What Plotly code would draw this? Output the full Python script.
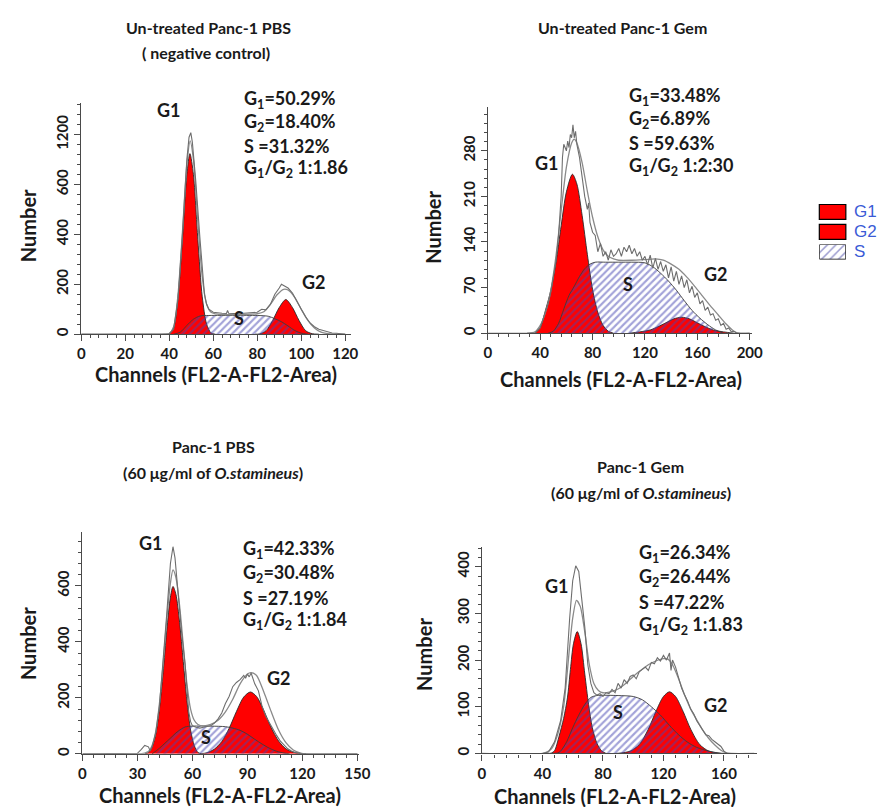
import plotly.graph_objects as go

W, H = 896, 807

# ---------------- Panel 1: Un-treated Panc-1 PBS ----------------
p1_raw_ch = [0, 38, 40, 42, 44, 46, 48, 49, 49.8, 50.5, 52, 54, 55, 56, 57, 58, 60, 62, 64, 66,
             66.5, 67, 68, 70, 72, 74, 76, 78, 80, 82, 84, 86, 88, 90, 91, 92, 94, 96, 98, 100,
             102, 104, 106, 108, 110, 112, 114, 116, 118, 120]
p1_raw = [0, 0, 2, 20, 140, 400, 700, 790, 808, 770, 620, 380, 250, 160, 120, 100, 88, 85, 84, 83,
          95, 84, 83, 84, 82, 84, 85, 86, 88, 100, 98, 120, 160, 185, 200, 195, 185, 165, 130, 100,
          70, 45, 30, 20, 15, 10, 5, 4, 2, 0]
p1_fit_ch = [0, 38, 40, 42, 44, 46, 48, 49.5, 51, 53, 55, 57, 59, 62, 66, 70, 75, 80, 83, 86,
             89, 92, 94, 97, 100, 103, 106, 109, 112, 115, 120]
p1_fit = [0, 0, 3, 30, 160, 410, 680, 775, 700, 450, 230, 120, 88, 80, 78, 78, 79, 82, 90, 120,
          158, 180, 177, 148, 100, 55, 25, 8, 2, 0, 0]
p1_g1_ch = [40, 42, 44, 46, 48, 49.4, 51, 53, 55, 57, 59, 61]
p1_g1 = [0, 25, 150, 380, 640, 724, 640, 380, 150, 40, 5, 0]
p1_s_ch = [42, 45, 48, 51, 54, 58, 70, 80, 85, 88, 91, 94, 97, 100, 103]
p1_s = [0, 8, 35, 60, 73, 75, 75, 75, 72, 62, 50, 33, 15, 4, 0]
p1_g2_ch = [79, 81, 84, 87, 90, 93, 96, 99, 102, 105, 108]
p1_g2 = [0, 1, 14, 55, 107, 139, 107, 55, 14, 2, 0]
p1_marks = [49, 92]
p1_yticks = [0, 200, 400, 600, 800]
p1_yticktext = ["0", "200", "400", "600", "1200"]
p1_stats = ["G<sub>1</sub>=50.29%", "G<sub>2</sub>=18.40%", "S =31.32%", "G<sub>1</sub>/G<sub>2</sub> 1:1.86"]

# ---------------- Panel 2: Un-treated Panc-1 Gem ----------------
p2_raw_ch = [0, 36, 40, 42, 44, 46, 48, 50, 52, 54, 56, 57, 58, 60, 61, 62, 63, 64, 65, 66,
             67, 68, 70, 72, 74, 76, 77, 78, 80, 82, 84, 86, 88, 90, 92, 94, 96, 98, 100, 102,
             104, 106, 108, 110, 112, 114, 116, 118, 120, 122, 124, 126, 128, 130, 132, 134, 136, 138, 140, 142,
             144, 146, 148, 150, 152, 154, 156, 158, 160, 162, 164, 166, 168, 170, 172, 174, 176, 178, 180, 182,
             184, 186, 188, 190, 200]
p2_raw = [0, 0, 8, 20, 30, 45, 62, 85, 110, 150, 210, 270, 290, 280, 295, 285, 305, 300, 320, 300,
          310, 290, 270, 240, 210, 190, 200, 170, 155, 150, 125, 138, 118, 125, 112, 128, 118, 122, 130, 118,
          132, 125, 135, 122, 130, 118, 125, 112, 118, 105, 120, 100, 115, 98, 110, 95, 105, 85, 102, 80,
          95, 75, 88, 70, 82, 62, 72, 55, 62, 45, 50, 35, 40, 28, 30, 20, 22, 12, 15, 6,
          8, 2, 3, 0, 0]
p2_fit_ch = [30, 36, 40, 44, 48, 52, 56, 60, 64, 66, 68, 72, 76, 80, 84, 88, 92, 96, 100, 110,
             120, 128, 134, 140, 146, 152, 158, 164, 170, 176, 182, 188, 192, 200]
p2_fit = [0, 2, 12, 32, 65, 118, 188, 255, 292, 298, 292, 262, 218, 178, 148, 128, 118, 114, 112, 112,
          113, 114, 112, 106, 98, 86, 72, 57, 42, 28, 14, 3, 0, 0]
p2_g1_ch = [36, 40, 44, 48, 52, 56, 60, 64.6, 68, 72, 76, 80, 84, 88, 92, 96]
p2_g1 = [0, 9, 35, 65, 108, 165, 217, 244, 229, 181, 121, 67, 32, 12, 3, 0]
p2_s_ch = [46, 50, 54, 58, 62, 66, 70, 74, 78, 82, 90, 100, 110, 120, 126, 132, 138, 144, 150, 156,
           162, 168, 174, 180]
p2_s = [0, 3, 15, 37, 58, 72, 87, 99, 106, 109, 109, 109, 109, 108, 102, 92, 80, 66, 50, 35,
        23, 13, 5, 0]
p2_g2_ch = [108, 116, 124, 130, 136, 142, 148, 154, 160, 166, 172, 180, 188]
p2_g2 = [0, 2, 5, 10, 16, 22, 24.5, 22, 16, 10, 5, 2, 0]
p2_marks = []
p2_stats = ["G<sub>1</sub>=33.48%", "G<sub>2</sub>=6.89%", "S =59.63%", "G<sub>1</sub>/G<sub>2</sub> 1:2:30"]

# ---------------- Panel 3: Panc-1 PBS (60 ug/ml) ----------------
p3_raw_ch = [0, 28, 30, 32, 34, 36, 37, 38, 40, 42, 44, 46, 48, 49.4, 50.5, 52, 54, 56, 58, 59,
             60, 62, 64, 66, 68, 70, 72, 74, 76, 78, 80, 82, 84, 86, 88, 89, 90, 91, 92, 93,
             94, 96, 97, 98, 100, 102, 104, 106, 108, 110, 112, 114, 116, 118, 120, 150]
p3_raw = [0, 0, 2, 15, 30, 25, 10, 25, 75, 170, 320, 500, 680, 740, 700, 580, 440, 320, 150, 115,
          100, 95, 92, 95, 98, 100, 110, 125, 146, 180, 205, 240, 255, 265, 280, 270, 285, 275, 289, 270,
          250, 225, 194, 170, 134, 110, 85, 65, 45, 30, 18, 10, 5, 3, 0, 0]
p3_fit_ch = [0, 30, 34, 36, 38, 40, 42, 44, 46, 48, 49.4, 51, 53, 55, 57, 59, 61, 63, 66, 70,
             74, 78, 82, 86, 90, 92, 95, 99, 103, 107, 111, 115, 119, 122, 150]
p3_fit = [0, 0, 3, 8, 30, 80, 180, 320, 480, 610, 657, 630, 530, 390, 250, 160, 120, 105, 100, 105,
          120, 150, 195, 250, 285, 290, 280, 220, 150, 85, 40, 14, 3, 0, 0]
p3_g1_ch = [34, 36, 38, 40, 42, 44, 46, 48, 49.4, 51, 53, 55, 57, 59, 61, 63, 65]
p3_g1 = [0, 5, 25, 70, 160, 290, 440, 560, 598, 570, 470, 330, 190, 85, 30, 5, 0]
p3_s_ch = [38, 42, 45, 48, 52, 56, 60, 70, 78, 82, 86, 90, 94, 98, 102, 106, 110, 113]
p3_s = [0, 20, 38, 56, 80, 96, 99, 99, 97, 92, 84, 70, 52, 35, 20, 9, 3, 0]
p3_g2_ch = [64, 68, 72, 76, 80, 84, 88, 91.6, 95, 99, 103, 107, 111, 115, 119, 122]
p3_g2 = [0, 4, 17, 44, 91, 151, 203, 221, 205, 154, 93, 46, 18, 6, 1, 0]
p3_marks = [49]
p3_stats = ["G<sub>1</sub>=42.33%", "G<sub>2</sub>=30.48%", "S =27.19%", "G<sub>1</sub>/G<sub>2</sub> 1:1.84"]

# ---------------- Panel 4: Panc-1 Gem (60 ug/ml) ----------------
p4_raw_ch = [0, 30, 40, 44, 48, 52, 55, 58, 60, 62, 63, 64, 66, 68, 70, 72, 74, 76, 78, 80,
             82, 84, 86, 88, 90, 92, 94, 96, 98, 100, 102, 104, 106, 108, 110, 112, 114, 116, 118, 120,
             122, 124, 125, 126, 128, 130, 132, 134, 136, 138, 140, 142, 144, 146, 148, 150, 152, 154, 156, 158,
             160, 162, 180]
p4_raw = [0, 0, 0, 3, 25, 70, 140, 290, 370, 402, 395, 390, 330, 270, 190, 150, 130, 125, 128, 122,
          130, 128, 137, 130, 150, 140, 158, 150, 165, 168, 160, 175, 180, 185, 178, 195, 192, 205, 198, 210,
          200, 215, 178, 200, 185, 160, 140, 125, 112, 95, 85, 70, 60, 52, 40, 38, 30, 25, 20, 15,
          5, 0, 0]
p4_fit_ch = [0, 40, 46, 50, 54, 58, 60, 62.5, 65, 68, 71, 74, 77, 80, 85, 90, 95, 100, 105, 110,
             115, 120, 123, 126, 130, 134, 138, 142, 146, 150, 154, 158, 162, 165, 180]
p4_fit = [0, 0, 10, 40, 100, 230, 290, 328, 315, 260, 190, 150, 135, 130, 132, 138, 150, 165, 178, 190,
          198, 203, 202, 190, 160, 125, 95, 72, 50, 32, 18, 7, 1, 0, 0]
p4_g1_ch = [44, 46, 48, 51, 54, 56.5, 58.5, 60.5, 63, 65.5, 68, 70.5, 73, 76, 79, 82]
p4_g1 = [0, 1, 6, 37, 75, 119, 180, 235, 261, 235, 170, 105, 55, 22, 6, 0]
p4_s_ch = [46, 50, 52, 56, 60, 64, 68, 72, 76, 90, 100, 106, 112, 118, 124, 130, 136, 142, 150, 158]
p4_s = [0, 1, 5, 25, 55, 82, 105, 120, 124, 124, 122, 115, 100, 82, 60, 40, 24, 13, 5, 0]
p4_g2_ch = [88, 92, 98, 104, 110, 115, 120, 124, 128, 133, 138, 144, 150, 156, 162]
p4_g2 = [0, 1, 5, 19, 52, 90, 122, 132, 122, 90, 52, 19, 5, 1, 0]
p4_marks = [62.5]
p4_stats = ["G<sub>1</sub>=26.34%", "G<sub>2</sub>=26.44%", "S =47.22%", "G<sub>1</sub>/G<sub>2</sub> 1:1.83"]

legend_labels = ["G1", "G2", "S"]

# ---------------- layout helpers ----------------
FONT = "Lato"
AXC = "#4a4a4a"
TXT = "#1a1a1a"
RED = "#ff0000"


def fx(px):
    return px / W


def fy(py):
    return 1 - py / H


panels = [
    dict(raw=(p1_raw_ch, p1_raw), fit=(p1_fit_ch, p1_fit), g1=(p1_g1_ch, p1_g1), s=(p1_s_ch, p1_s),
         g2=(p1_g2_ch, p1_g2), marks=p1_marks, stats=p1_stats,
         x0=70.5, sx=2.24, xmax=122.5, y0=327, sy=0.25, ytop=95,
         xd=20, xm=4, yd=200, ym=40, ytv=p1_yticks, ytt=p1_yticktext,
         stat_xy=(234, [92, 115, 138, 161]),
         lab=dict(G1=(160, 102), G2=(307, 275), S=(231, 311)),
         ytitle=(17, 218), xtitle=(208, 367)),
    dict(raw=(p2_raw_ch, p2_raw), fit=(p2_fit_ch, p2_fit), g1=(p2_g1_ch, p2_g1), s=(p2_s_ch, p2_s),
         g2=(p2_g2_ch, p2_g2), marks=p2_marks, stats=p2_stats,
         x0=484.5, sx=1.333, xmax=201.5, y0=326, sy=0.653, ytop=99,
         xd=40, xm=8, yd=70, ym=14, ytv=None, ytt=None,
         stat_xy=(626, [89, 112, 135, 159]),
         lab=dict(G1=(545, 155), G2=(717, 267), S=(627, 277)),
         ytitle=(429, 220), xtitle=(620, 372)),
    dict(raw=(p3_raw_ch, p3_raw), fit=(p3_fit_ch, p3_fit), g1=(p3_g1_ch, p3_g1), s=(p3_s_ch, p3_s),
         g2=(p3_g2_ch, p3_g2), marks=p3_marks, stats=p3_stats,
         x0=71.7, sx=1.8667, xmax=150.8, y0=747.7, sy=0.2806, ytop=525,
         xd=30, xm=6, yd=200, ym=40, ytv=None, ytt=None,
         stat_xy=(233, [543, 567, 591, 614]),
         lab=dict(G1=(142, 536), G2=(272, 672), S=(198, 731)),
         ytitle=(17, 637), xtitle=(212, 789)),
    dict(raw=(p4_raw_ch, p4_raw), fit=(p4_fit_ch, p4_fit), g1=(p4_g1_ch, p4_g1), s=(p4_s_ch, p4_s),
         g2=(p4_g2_ch, p4_g2), marks=p4_marks, stats=p4_stats,
         x0=478.5, sx=1.54, xmax=182, y0=747.3, sy=0.468, ytop=540,
         xd=40, xm=8, yd=100, ym=20, ytv=None, ytt=None,
         stat_xy=(636, [547, 571, 595, 619]),
         lab=dict(G1=(555, 579), G2=(717, 699), S=(617, 706)),
         ytitle=(420, 648), xtitle=(614, 790)),
]

titles = [
    ("<b>Un-treated Panc-1 PBS</b>", 200, 20),
    ("<b>( negative control)</b>", 198, 45),
    ("<b>Un-treated Panc-1 Gem</b>", 622, 20),
    ("<b>Panc-1 PBS</b>", 205, 440),
    ("<b>(60 μg/ml of <i>O.stamineus</i>)</b>", 205, 466),
    ("<b>Panc-1 Gem</b>", 640, 460),
    ("<b>(60 μg/ml of <i>O.stamineus</i>)</b>", 640, 486),
]

fig = go.Figure()
annotations = []
layout = dict(
    width=W, height=H, autosize=False,
    margin=dict(l=0, r=0, t=0, b=0),
    paper_bgcolor="white", plot_bgcolor="rgba(0,0,0,0)",
    showlegend=False,
    font=dict(family=FONT, color=TXT),
)

hatch = dict(shape="/", fgcolor="#4646b2", bgcolor="rgba(255,255,255,0)", size=5, solidity=0.42)

for i, p in enumerate(panels):
    n = i + 1
    xa = "x" if n == 1 else f"x{n}"
    ya = "y" if n == 1 else f"y{n}"
    xkey = "xaxis" if n == 1 else f"xaxis{n}"
    ykey = "yaxis" if n == 1 else f"yaxis{n}"
    x1 = p["x0"] + p["xmax"] * p["sx"]
    ymax = (p["y0"] - p["ytop"]) / p["sy"]
    common = dict(showline=True, linecolor=AXC, linewidth=1.3, ticks="outside", ticklen=6,
                  tickwidth=1.2, tickcolor=AXC, showgrid=False, zeroline=False,
                  tickfont=dict(family=FONT, size=15, color=TXT, weight="bold"))
    layout[xkey] = dict(common, domain=[fx(p["x0"]), fx(x1)], range=[0, p["xmax"]], anchor=ya,
                        tickmode="linear", tick0=0, dtick=p["xd"],
                        minor=dict(ticks="outside", ticklen=3, tickcolor=AXC, tickwidth=1,
                                   tickmode="linear", tick0=0, dtick=p["xm"]))
    yd = dict(common, domain=[fy(p["y0"]), fy(p["ytop"])], range=[0, ymax], anchor=xa,
              tickangle=-90,
              minor=dict(ticks="outside", ticklen=3, tickcolor=AXC, tickwidth=1,
                         tickmode="linear", tick0=0, dtick=p["ym"]))
    if p["ytv"] is not None:
        yd.update(tickmode="array", tickvals=p["ytv"], ticktext=p["ytt"])
    else:
        yd.update(tickmode="linear", tick0=0, dtick=p["yd"])
    layout[ykey] = yd

    # G1 and G2 red peaks
    for key in ("g1", "g2"):
        cx, cy = p[key]
        fig.add_trace(go.Scatter(x=cx, y=cy, xaxis=xa, yaxis=ya, mode="lines",
                                 line=dict(color="#2a2a2a", width=0.9, shape="spline", smoothing=0.8),
                                 fill="tozeroy", fillcolor=RED, hoverinfo="skip"))
    # S phase hatched
    cx, cy = p["s"]
    fig.add_trace(go.Scatter(x=cx, y=cy, xaxis=xa, yaxis=ya, mode="lines",
                             line=dict(color="#3c3c3c", width=0.9, shape="spline", smoothing=0.8),
                             fill="tozeroy", fillcolor="rgba(0,0,0,0)", fillpattern=hatch,
                             hoverinfo="skip"))
    # fitted sum
    cx, cy = p["fit"]
    fig.add_trace(go.Scatter(x=cx, y=cy, xaxis=xa, yaxis=ya, mode="lines",
                             line=dict(color="#8a8a8a", width=1.3, shape="spline", smoothing=0.7),
                             hoverinfo="skip"))
    # raw histogram
    cx, cy = p["raw"]
    fig.add_trace(go.Scatter(x=cx, y=cy, xaxis=xa, yaxis=ya, mode="lines",
                             line=dict(color="#6e6e6e", width=1.1), hoverinfo="skip"))
    # peak markers
    if p["marks"]:
        fig.add_trace(go.Scatter(x=p["marks"], y=[-2.5 / p["sy"]] * len(p["marks"]), xaxis=xa, yaxis=ya,
                                 mode="markers", cliponaxis=False,
                                 marker=dict(symbol="triangle-up", size=7, color="black"),
                                 hoverinfo="skip"))

    # stats text
    sx_, sys_ = p["stat_xy"]
    for txt, yy in zip(p["stats"], sys_):
        annotations.append(dict(text=f"<b>{txt}</b>", x=fx(sx_), y=fy(yy), xref="paper", yref="paper",
                                xanchor="left", yanchor="middle", showarrow=False,
                                font=dict(family=FONT, size=18, color=TXT)))
    for k, (lx, ly) in p["lab"].items():
        annotations.append(dict(text=f"<b>{k}</b>", x=fx(lx), y=fy(ly), xref="paper", yref="paper",
                                xanchor="center", yanchor="middle", showarrow=False,
                                font=dict(family=FONT, size=18, color=TXT)))
    tx, ty = p["ytitle"]
    annotations.append(dict(text="<b>Number</b>", x=fx(tx), y=fy(ty), xref="paper", yref="paper",
                            textangle=-90, xanchor="center", yanchor="middle", showarrow=False,
                            font=dict(family=FONT, size=20, color=TXT)))
    tx, ty = p["xtitle"]
    annotations.append(dict(text="<b>Channels (FL2-A-FL2-Area)</b>", x=fx(tx), y=fy(ty),
                            xref="paper", yref="paper", xanchor="center", yanchor="middle",
                            showarrow=False, font=dict(family=FONT, size=20, color=TXT)))

for txt, tx, ty in titles:
    annotations.append(dict(text=txt, x=fx(tx), y=fy(ty), xref="paper", yref="paper",
                            xanchor="center", yanchor="middle", showarrow=False,
                            font=dict(family=FONT, size=16, color=TXT)))

# ---------------- legend (right side) ----------------
shapes = []
box_x0, box_x1 = 822, 849
box_tops = [197, 217, 237]
box_h = 15
for j, lab in enumerate(legend_labels):
    top = box_tops[j]
    if lab != "S":
        shapes.append(dict(type="rect", xref="paper", yref="paper",
                           x0=fx(box_x0), x1=fx(box_x1), y0=fy(top + box_h), y1=fy(top),
                           fillcolor=RED, line=dict(color="black", width=1.2)))
    annotations.append(dict(text=lab, x=fx(box_x1 + 6), y=fy(top + box_h / 2), xref="paper",
                            yref="paper", xanchor="left", yanchor="middle", showarrow=False,
                            font=dict(family="Liberation Sans", size=17, color="#3b5bd6")))

# hatched legend box for S on a hidden axis pair
s_top = box_tops[2]
layout["xaxis5"] = dict(domain=[fx(box_x0), fx(box_x1)], range=[0, 1], visible=False, anchor="y5",
                        fixedrange=True)
layout["yaxis5"] = dict(domain=[fy(s_top + box_h), fy(s_top)], range=[0, 1], visible=False,
                        anchor="x5", fixedrange=True)
fig.add_trace(go.Scatter(x=[0, 1, 1, 0, 0], y=[0, 0, 1, 1, 0], xaxis="x5", yaxis="y5", mode="lines",
                         line=dict(color="black", width=1.2), fill="toself",
                         fillcolor="rgba(0,0,0,0)",
                         fillpattern=dict(shape="/", fgcolor="#3a3aa0", bgcolor="white", size=6,
                                          solidity=0.25),
                         hoverinfo="skip"))

layout["annotations"] = annotations
layout["shapes"] = shapes
fig.update_layout(**layout)
fig.write_html("out.html")
